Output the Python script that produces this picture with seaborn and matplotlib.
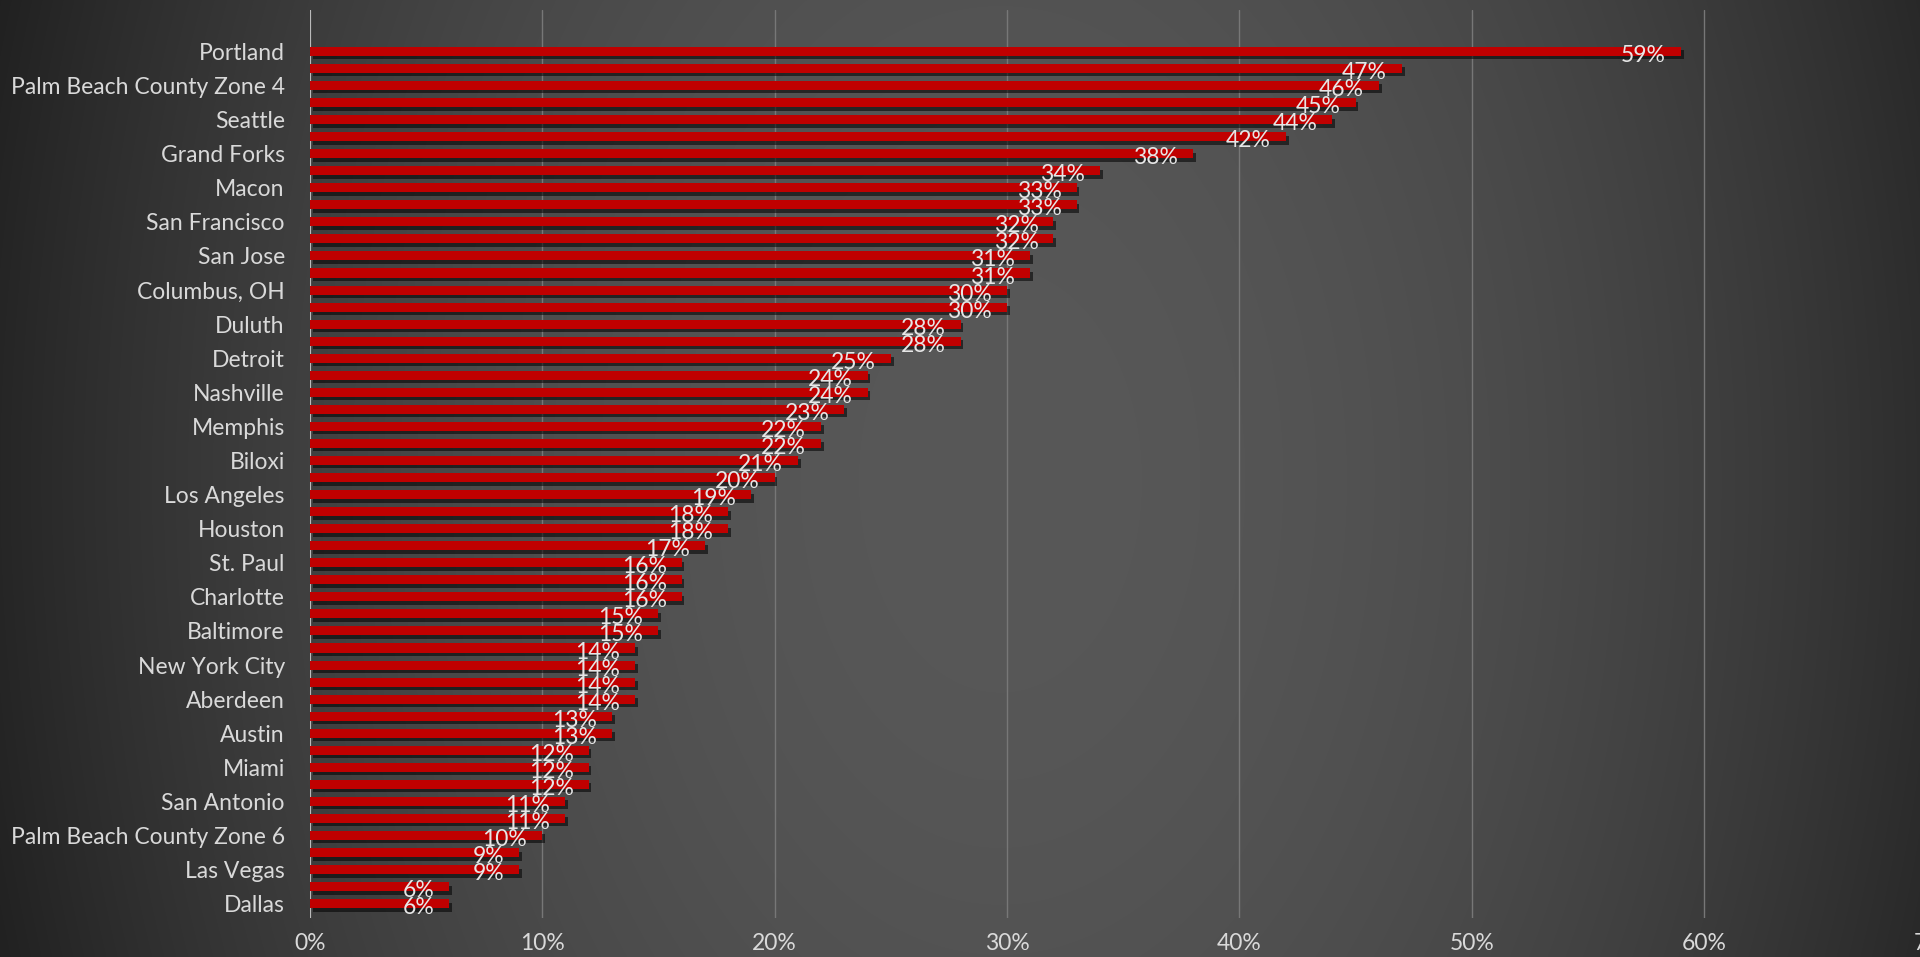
import numpy as np
import pandas as pd
import matplotlib.pyplot as plt
import matplotlib.patheffects as pe
import seaborn as sns

# city names shown on the axis (every second bar carries a name)
cities = [
    'Portland', 'Palm Beach County Zone 4', 'Seattle', 'Grand Forks', 'Macon',
    'San Francisco', 'San Jose', 'Columbus, OH', 'Duluth', 'Detroit',
    'Nashville', 'Memphis', 'Biloxi', 'Los Angeles', 'Houston', 'St. Paul',
    'Charlotte', 'Baltimore', 'New York City', 'Aberdeen', 'Austin', 'Miami',
    'San Antonio', 'Palm Beach County Zone 6', 'Las Vegas', 'Dallas',
]
# share in percent, top to bottom
shares = [
    59, 47, 46, 45, 44, 42, 38, 34, 33, 33, 32, 32, 31, 31, 30, 30, 28, 28,
    25, 24, 24, 23, 22, 22, 21, 20, 19, 18, 18, 17, 16, 16, 16, 15, 15,
    14, 14, 14, 14, 13, 13, 12, 12, 12, 11, 11, 10, 9, 9, 6, 6,
]
x_ticks = [0, 10, 20, 30, 40, 50, 60, 70]

df = pd.DataFrame({'rank': np.arange(len(shares)), 'share': shares})

sns.set_style('dark')
plt.rcParams['font.family'] = ['Lato', 'DejaVu Sans']

W, H = 1920, 957
fig = plt.figure(figsize=(W / 100, H / 100), dpi=100)

# dark background, lighter towards the middle
bg = fig.add_axes([0, 0, 1, 1], zorder=0)
xx, yy = np.meshgrid(np.arange(W), np.arange(H))
r2 = ((xx - 1000) / 1000) ** 2 + ((yy - 480) / 1500) ** 2
shade = np.clip((88 - 50 * r2) / 255, 0, 1)
bg.imshow(np.dstack([shade] * 3), aspect='auto', extent=(0, 1, 0, 1))
bg.axis('off')

left = 309.8 / W
right = 1936.6 / W
bottom = (H - 918) / H
top = (H - 10) / H
ax = fig.add_axes([left, bottom, right - left, top - bottom], zorder=1)
ax.set_facecolor('none')

sns.barplot(data=df, x='share', y='rank', orient='h', color='#c00000',
            saturation=1, width=0.53, linewidth=0, edgecolor='none',
            ax=ax, zorder=3)

for p in ax.patches:
    p.set_path_effects([
        pe.SimplePatchShadow(offset=(2, -2.5), shadow_rgbFace='black', alpha=0.55),
        pe.Normal(),
    ])

for i, v in enumerate(shares):
    ax.annotate(f'{v}%', xy=(v, i), xytext=(-15, -4), textcoords='offset pixels',
                ha='right', va='center', color='#e6e6e6', fontsize=16.5, zorder=5)

ax.set_xlim(0, 70)
ax.set_ylim(50.84, -2.43)
ax.set_xticks(x_ticks)
ax.set_xticklabels([f'{t}%' for t in x_ticks])
ax.set_yticks(np.arange(0, len(shares), 2))
ax.set_yticklabels(cities)
ax.set_xlabel('')
ax.set_ylabel('')

ax.grid(axis='x', color='#777777', lw=1)
ax.grid(axis='y', visible=False)
ax.set_axisbelow(True)
ax.axvline(0, color='#c8c8c8', lw=1.2, zorder=2)

ax.tick_params(axis='x', length=0, pad=11, labelsize=16.5, labelcolor='#d9d9d9')
ax.tick_params(axis='y', length=0, pad=18, labelsize=16.5, labelcolor='#d9d9d9')
sns.despine(ax=ax, left=True, bottom=True)

fig.savefig('out.png', dpi=100)
